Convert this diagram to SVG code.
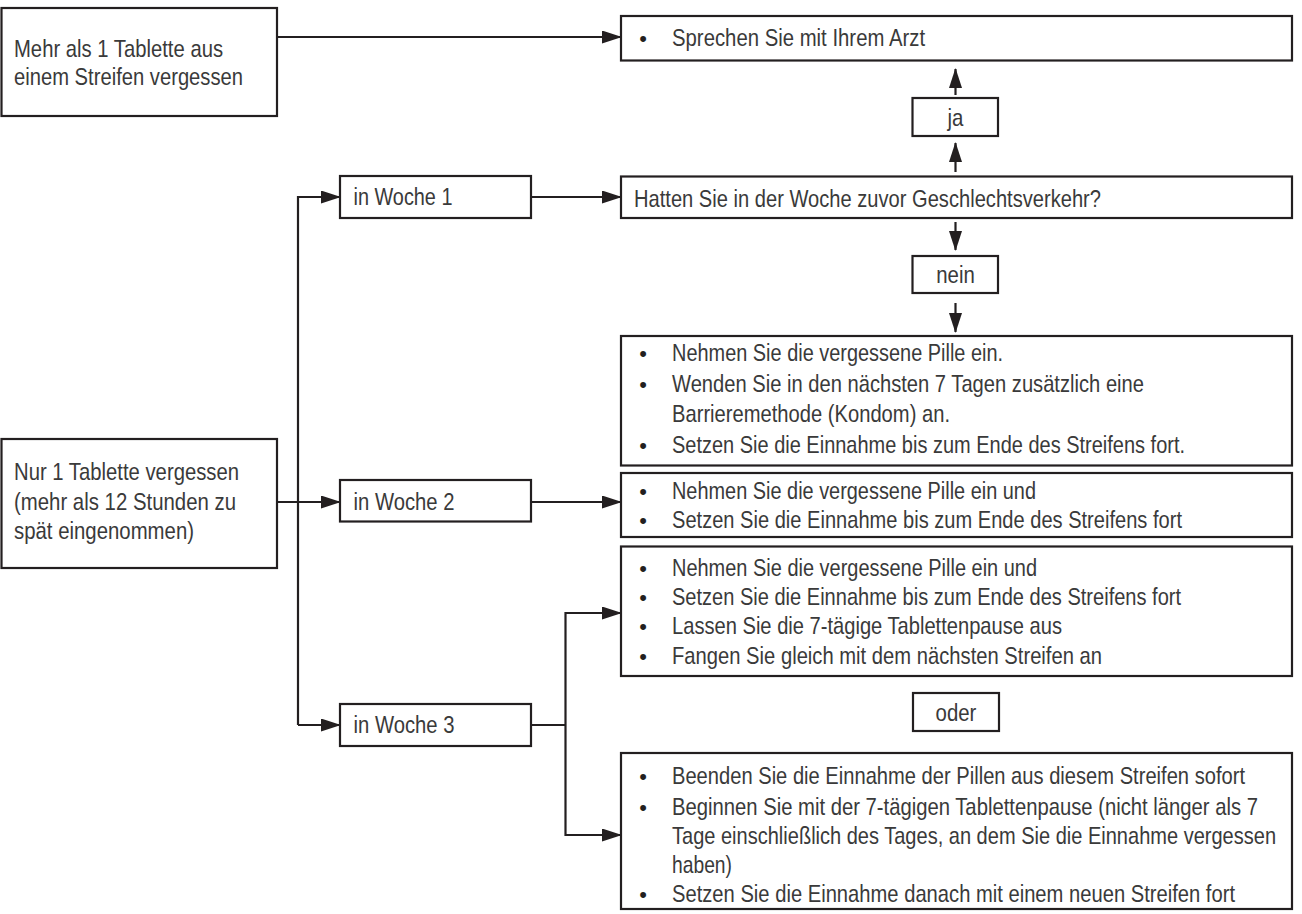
<svg xmlns="http://www.w3.org/2000/svg" width="1302" height="914" viewBox="0 0 1302 914">
<defs>
<style>
.box{fill:#fff;stroke:#231f20;stroke-width:2.2}
.t{font-family:"Liberation Sans",Arial,sans-serif;font-size:24px;fill:#3a3a3a}
.c{text-anchor:middle}
.b{font-family:"Liberation Sans",Arial,sans-serif;font-size:22px;fill:#231f20;text-anchor:middle}
.ln{fill:none;stroke:#231f20;stroke-width:2.2}
.ar{fill:none;stroke:#231f20;stroke-width:2.2;marker-end:url(#ah)}
</style>
<marker id="ah" markerUnits="userSpaceOnUse" markerWidth="20" markerHeight="13" refX="19" refY="6.5" orient="auto">
<path d="M0,0 L20,6.5 L0,13 z" fill="#231f20"/>
</marker>
</defs>
<rect width="1302" height="914" fill="#fff"/>

<g id="connectors">
<path class="ar" d="M277,37 H621"/>
<path class="ar" d="M298,725 V197 H340"/>
<path class="ar" d="M277,502 H340"/>
<path class="ar" d="M298,725 H340"/>
<path class="ar" d="M531,197 H621"/>
<path class="ar" d="M531,502 H621"/>
<path class="ln" d="M531,725 H565.5"/>
<path class="ar" d="M565.5,725 V613 H621"/>
<path class="ar" d="M565.5,725 V835 H621"/>
<path class="ar" d="M955.5,95 V69"/>
<path class="ar" d="M955.5,172 V143"/>
<path class="ar" d="M955.5,222 V250"/>
<path class="ar" d="M955.5,303 V332"/>
</g>

<g id="box-mehr">
<rect class="box" x="1.5" y="8" width="275.5" height="108"/>
<g transform="translate(14,0) scale(0.78,1)">
<text class="t" x="0" y="57" textLength="268" lengthAdjust="spacingAndGlyphs">Mehr als 1 Tablette aus</text>
<text class="t" x="0" y="85" textLength="293.6" lengthAdjust="spacingAndGlyphs">einem Streifen vergessen</text>
</g>
</g>

<g id="box-arzt">
<rect class="box" x="621" y="16" width="671" height="44.5"/>
<text class="b" x="643" y="45.5">•</text>
<g transform="translate(672,0) scale(0.78,1)">
<text class="t" x="0" y="46" textLength="324.4" lengthAdjust="spacingAndGlyphs">Sprechen Sie mit Ihrem Arzt</text>
</g>
</g>

<g id="box-ja">
<rect class="box" x="912.5" y="98" width="85.5" height="38"/>
<g transform="translate(955.5,0) scale(0.85,1)">
<text class="t c" x="0" y="126">ja</text>
</g>
</g>

<g id="box-frage">
<rect class="box" x="621" y="176.5" width="671" height="41.5"/>
<g transform="translate(634,0) scale(0.78,1)">
<text class="t" x="0" y="207.5" textLength="598.7" lengthAdjust="spacingAndGlyphs">Hatten Sie in der Woche zuvor Geschlechtsverkehr?</text>
</g>
</g>

<g id="box-woche1">
<rect class="box" x="340" y="176" width="191" height="42"/>
<g transform="translate(353.5,0) scale(0.78,1)">
<text class="t" x="0" y="205.5" textLength="126.9" lengthAdjust="spacingAndGlyphs">in Woche 1</text>
</g>
</g>

<g id="box-nein">
<rect class="box" x="912.5" y="256" width="85.5" height="37"/>
<g transform="translate(955.5,0) scale(0.85,1)">
<text class="t c" x="0" y="283.5">nein</text>
</g>
</g>

<g id="box-n1">
<rect class="box" x="621" y="336" width="671" height="129.5"/>
<text class="b" x="643" y="361">•</text>
<text class="b" x="643" y="392">•</text>
<text class="b" x="643" y="453">•</text>
<g transform="translate(672,0) scale(0.78,1)">
<text class="t" x="0" y="361.5" textLength="424.4" lengthAdjust="spacingAndGlyphs">Nehmen Sie die vergessene Pille ein.</text>
<text class="t" x="0" y="392.5" textLength="605.1" lengthAdjust="spacingAndGlyphs">Wenden Sie in den nächsten 7 Tagen zusätzlich eine</text>
<text class="t" x="0" y="422.5" textLength="356.4" lengthAdjust="spacingAndGlyphs">Barrieremethode (Kondom) an.</text>
<text class="t" x="0" y="453.5" textLength="657.7" lengthAdjust="spacingAndGlyphs">Setzen Sie die Einnahme bis zum Ende des Streifens fort.</text>
</g>
</g>

<g id="box-nur">
<rect class="box" x="1.5" y="439" width="275.5" height="129"/>
<g transform="translate(14,0) scale(0.78,1)">
<text class="t" x="0" y="480.5" textLength="288.5" lengthAdjust="spacingAndGlyphs">Nur 1 Tablette vergessen</text>
<text class="t" x="0" y="510.5" textLength="284.6" lengthAdjust="spacingAndGlyphs">(mehr als 12 Stunden zu</text>
<text class="t" x="0" y="539.5" textLength="230.8" lengthAdjust="spacingAndGlyphs">spät eingenommen)</text>
</g>
</g>

<g id="box-woche2">
<rect class="box" x="340" y="480" width="191" height="41.5"/>
<g transform="translate(353.5,0) scale(0.78,1)">
<text class="t" x="0" y="510.5" textLength="129.5" lengthAdjust="spacingAndGlyphs">in Woche 2</text>
</g>
</g>

<g id="box-n2">
<rect class="box" x="621" y="473" width="671" height="64"/>
<text class="b" x="643" y="499">•</text>
<text class="b" x="643" y="528">•</text>
<g transform="translate(672,0) scale(0.78,1)">
<text class="t" x="0" y="499.5" textLength="466.7" lengthAdjust="spacingAndGlyphs">Nehmen Sie die vergessene Pille ein und</text>
<text class="t" x="0" y="528.5" textLength="653.8" lengthAdjust="spacingAndGlyphs">Setzen Sie die Einnahme bis zum Ende des Streifens fort</text>
</g>
</g>

<g id="box-n3">
<rect class="box" x="621" y="546.5" width="671" height="129.5"/>
<text class="b" x="643" y="576">•</text>
<text class="b" x="643" y="605">•</text>
<text class="b" x="643" y="634">•</text>
<text class="b" x="643" y="664">•</text>
<g transform="translate(672,0) scale(0.78,1)">
<text class="t" x="0" y="576.5" textLength="468" lengthAdjust="spacingAndGlyphs">Nehmen Sie die vergessene Pille ein und</text>
<text class="t" x="0" y="605.5" textLength="652.6" lengthAdjust="spacingAndGlyphs">Setzen Sie die Einnahme bis zum Ende des Streifens fort</text>
<text class="t" x="0" y="634.5" textLength="500" lengthAdjust="spacingAndGlyphs">Lassen Sie die 7-tägige Tablettenpause aus</text>
<text class="t" x="0" y="664.5" textLength="551.3" lengthAdjust="spacingAndGlyphs">Fangen Sie gleich mit dem nächsten Streifen an</text>
</g>
</g>

<g id="box-oder">
<rect class="box" x="913" y="693" width="86" height="38"/>
<g transform="translate(956,0) scale(0.85,1)">
<text class="t c" x="0" y="721">oder</text>
</g>
</g>

<g id="box-woche3">
<rect class="box" x="340" y="704" width="191" height="42"/>
<g transform="translate(353.5,0) scale(0.78,1)">
<text class="t" x="0" y="733.5" textLength="129.5" lengthAdjust="spacingAndGlyphs">in Woche 3</text>
</g>
</g>

<g id="box-n4">
<rect class="box" x="621" y="753" width="671" height="156"/>
<text class="b" x="643" y="784">•</text>
<text class="b" x="643" y="815">•</text>
<text class="b" x="643" y="902">•</text>
<g transform="translate(672,0) scale(0.78,1)">
<text class="t" x="0" y="784.5" textLength="734.6" lengthAdjust="spacingAndGlyphs">Beenden Sie die Einnahme der Pillen aus diesem Streifen sofort</text>
<text class="t" x="0" y="815.5" textLength="751.3" lengthAdjust="spacingAndGlyphs">Beginnen Sie mit der 7-tägigen Tablettenpause (nicht länger als 7</text>
<text class="t" x="0" y="844.5" textLength="774.4" lengthAdjust="spacingAndGlyphs">Tage einschließlich des Tages, an dem Sie die Einnahme vergessen</text>
<text class="t" x="0" y="873.5" textLength="76.9" lengthAdjust="spacingAndGlyphs">haben)</text>
<text class="t" x="0" y="902.5" textLength="721.8" lengthAdjust="spacingAndGlyphs">Setzen Sie die Einnahme danach mit einem neuen Streifen fort</text>
</g>
</g>
</svg>
